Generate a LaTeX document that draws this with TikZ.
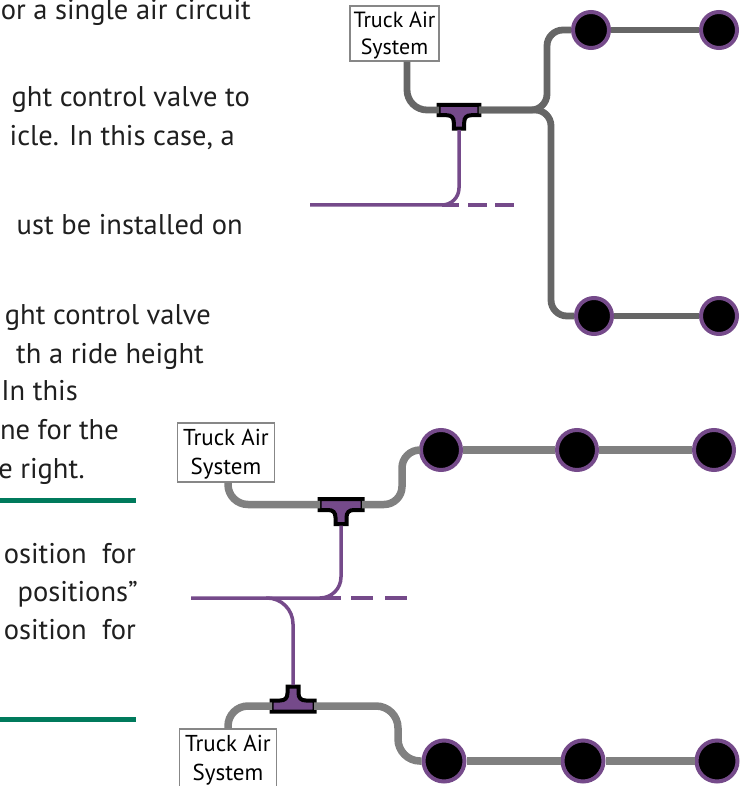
\documentclass[tikz,border=0pt]{standalone}
\usepackage{fontspec}
\setmainfont{PT Sans}
\definecolor{airpurple}{HTML}{754A8A}
\definecolor{rulegreen}{HTML}{007A5C}
\def\airlabel{\rule{0pt}{20pt}Truck Air\\System}
\tikzset{
  airline/.style={line width=6.8pt,rounded corners=16pt},
  signal/.style={line width=3.5pt,draw=airpurple,rounded corners=#1},
  wheel/.style={circle,fill=black,draw=airpurple,line width=4pt,inner sep=0pt,minimum size=#1},
  airbox/.style={draw=black!47,line width=1.4pt,fill=white,align=center,inner sep=0pt},
  copytext/.style={anchor=base east,inner sep=0pt,text=black!88,font=\fontsize{28.5}{30}\selectfont},
  tee/.pic={
    \draw[line width=4pt,fill=airpurple,line join=miter]
      (-21.5,-5.5) -- (21.5,-5.5) -- (21.5,5.5) -- (13,5.5) .. controls (8,5.5) and (5.5,8) .. (5.5,13)
      -- (5.5,19.5) -- (-5.5,19.5) -- (-5.5,13) .. controls (-5.5,8) and (-8,5.5) .. (-13,5.5) -- (-21.5,5.5) -- cycle;
    \coordinate (-left) at (-21,0);
    \coordinate (-right) at (21,0);
    \coordinate (-stem) at (0,21);
  }
}
\begin{document}
\begin{tikzpicture}[x=1pt,y=-1pt]
\useasboundingbox (0,0) rectangle (745,786);

% text on the left
\node[copytext] (lineA) at (251,20) {or a single air circuit};
\node[copytext] (lineB) at (250,107) {ght control valve to};
\node[copytext] (lineC) at (235,146) {icle. In this case, a};
\node[copytext] (lineD) at (243,234) {ust be installed on};
\node[copytext] (lineE) at (211,324) {ght control valve};
\node[copytext] (lineF) at (204,363) {th a ride height};
\node[copytext] (lineG) at (78,400) {In this};
\node[copytext] (lineH) at (119,439) {ne for the};
\node[copytext] (lineI) at (85,478) {e right.};
\node[copytext] (lineJ) at (136,563) {osition\ \ for};
\node[copytext] (lineK) at (138,601) {positions”};
\node[copytext] (lineL) at (136,639) {osition\ \ for};

\coordinate (ruleA) at (0,500);
\coordinate (ruleAend) at (136,500);
\coordinate (ruleB) at (0,719);
\coordinate (ruleBend) at (136,719);
\draw[rulegreen,line width=5pt] (ruleA) -- (ruleAend);
\draw[rulegreen,line width=5pt] (ruleB) -- (ruleBend);

% upper layout
\node[airbox,font=\fontsize{22}{27}\selectfont,minimum width=89pt,minimum height=55pt] (topBox) at (394.5,33.5) {\airlabel};
\node[wheel=36pt] (topA) at (591,30) {};
\node[wheel=36pt] (topB) at (719,30) {};
\node[wheel=36pt] (topC) at (594,316) {};
\node[wheel=36pt] (topD) at (719,316) {};
\pic[scale=.95] (topT) at (459,110) {tee};

\coordinate (topIn) at (407,110);
\coordinate (topUp) at (547,110);
\coordinate (topUpEnd) at (547,30);
\coordinate (topDown) at (551,110);
\coordinate (topDownEnd) at (551,316);
\coordinate (topSig) at (459,205);
\coordinate (topBend) at (442,205);
\coordinate (topStub) at (310,205);
\coordinate (topDash) at (514,205);

\draw[airline,black!60,rounded corners=20pt] (topBox.south -| topIn) -- (topIn) -- (topT-left);
\draw[airline,black!60] (topT-right) -- (topUp) -- (topUpEnd) -- (topA);
\draw[airline,black!60] (topT-right) -- (topDown) -- (topDownEnd) -- (topC);
\draw[airline,black!60] (topA) -- (topB);
\draw[airline,black!60] (topC) -- (topD);
\draw[signal=17pt] (topT-stem) -- (topSig) -- (topStub);
\draw[signal=0pt,dash pattern=on 17pt off 9pt on 19pt off 8pt on 19pt] (topBend) -- (topDash);

% lower layout
\node[airbox,font=\fontsize{23}{29}\selectfont,minimum width=97pt,minimum height=59pt] (midBox) at (226,452.5) {\airlabel};
\node[wheel=40pt] (midA) at (441,450) {};
\node[wheel=40pt] (midB) at (577,450) {};
\node[wheel=40pt] (midC) at (714,450) {};
\pic (midT) at (341,504.5) {tee};

\node[airbox,font=\fontsize{23}{29}\selectfont,minimum width=97pt,minimum height=59pt] (botBox) at (228,758.5) {\airlabel};
\node[wheel=41pt] (botA) at (444,761) {};
\node[wheel=41pt] (botB) at (583,761) {};
\node[wheel=41pt] (botC) at (717,761) {};
\pic[yscale=-1] (botT) at (293,706) {tee};

\coordinate (midIn) at (228,504.5);
\coordinate (midUp) at (402,504.5);
\coordinate (midUpEnd) at (402,450);
\coordinate (midSig) at (341,598);
\coordinate (midBend) at (320,598);
\coordinate (midStub) at (191,598);
\coordinate (midDash) at (407,598);
\coordinate (botSig) at (293,598);
\coordinate (botSigStart) at (266,598);
\coordinate (botIn) at (228,706);
\coordinate (botDown) at (398,706);
\coordinate (botDownEnd) at (398,761);

\draw[airline,black!50,line width=7.5pt,rounded corners=20pt] (midBox.south -| midIn) -- (midIn) -- (midT-left);
\draw[airline,black!50,line width=7.5pt,rounded corners=18pt] (midT-right) -- (midUp) -- (midUpEnd) -- (midA);
\draw[airline,black!50,line width=7.5pt] (midA) -- (midB);
\draw[airline,black!50,line width=7.5pt] (midB) -- (midC);
\draw[airline,black!50,line width=7.5pt,rounded corners=20pt] (botBox.north -| botIn) -- (botIn) -- (botT-left);
\draw[airline,black!50,line width=7.5pt,rounded corners=22pt] (botT-right) -- (botDown) -- (botDownEnd) -- (botA);
\draw[airline,black!50,line width=7.5pt] (botA) -- (botB);
\draw[airline,black!50,line width=7.5pt] (botB) -- (botC);
\draw[signal=21pt] (midT-stem) -- (midSig) -- (midStub);
\draw[signal=0pt,dash pattern=on 21pt off 10pt on 22pt off 12pt on 22pt] (midBend) -- (midDash);
\draw[signal=26pt] (botSigStart) -- (botSig) -- (botT-stem);
\end{tikzpicture}
\end{document}
